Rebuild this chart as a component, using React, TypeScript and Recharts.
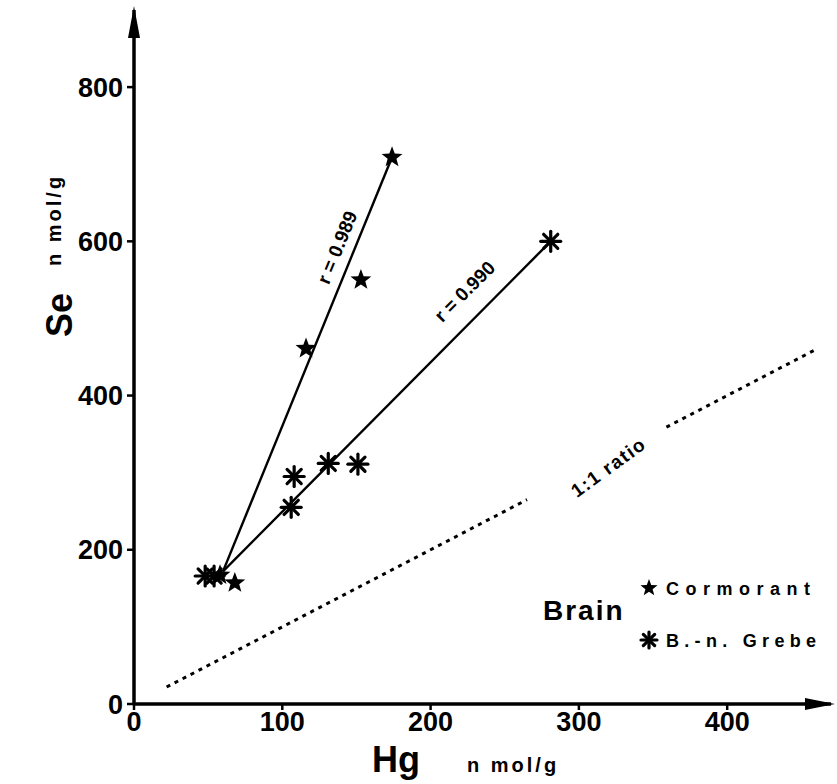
import {
  ScatterChart,
  Scatter,
  XAxis,
  YAxis,
  ReferenceLine,
  ReferenceDot,
} from "recharts";

// Hg vs Se in brain tissue (nmol/g)
const hgTicks = [0, 100, 200, 300, 400];
const seTicks = [0, 200, 400, 600, 800];

const cormorant = [
  { hg: 58, se: 167 },
  { hg: 68, se: 157 },
  { hg: 116, se: 461 },
  { hg: 153, se: 550 },
  { hg: 174, se: 709 },
];

const grebe = [
  { hg: 48, se: 166 },
  { hg: 54, se: 166 },
  { hg: 106, se: 255 },
  { hg: 108, se: 295 },
  { hg: 131, se: 312 },
  { hg: 151, se: 311 },
  { hg: 281, se: 600 },
];

const cormorantFit = [
  { x: 60, y: 172 },
  { x: 174, y: 709 },
];
const grebeFit = [
  { x: 60, y: 172 },
  { x: 281, y: 600 },
];
// 1:1 line, broken where its label sits
const ratioLow = [
  { x: 22, y: 22 },
  { x: 265, y: 265 },
];
const ratioHigh = [
  { x: 359, y: 359 },
  { x: 460, y: 460 },
];

const FONT = "'Liberation Sans', Arial, sans-serif";

function starPath(cx: number, cy: number, ro: number, ri: number) {
  const pts: string[] = [];
  for (let i = 0; i < 10; i++) {
    const r = i % 2 === 0 ? ro : ri;
    const a = -Math.PI / 2 + (i * Math.PI) / 5;
    pts.push(`${cx + r * Math.cos(a)},${cy + r * Math.sin(a)}`);
  }
  return pts.join(" ");
}

// recharts passes its own `size`, so the radius goes in under another name
function Star({ cx, cy, rad = 11 }: any) {
  if (cx == null || cy == null) return null;
  return <polygon points={starPath(cx, cy, rad, rad * 0.42)} fill="#000" />;
}

function Asterisk({ cx, cy, rad = 10 }: any) {
  if (cx == null || cy == null) return null;
  const arms = [0, 45, 90, 135].map((deg) => {
    const a = (deg * Math.PI) / 180;
    const dx = rad * Math.cos(a);
    const dy = rad * Math.sin(a);
    return (
      <line
        key={deg}
        x1={cx - dx}
        y1={cy - dy}
        x2={cx + dx}
        y2={cy + dy}
        stroke="#000"
        strokeWidth={3.2}
        strokeLinecap="round"
      />
    );
  });
  return <g>{arms}</g>;
}

function rotatedText(text: string, angle: number, fontSize: number, spacing = 0) {
  return ({ cx, cy }: any) => (
    <text
      x={cx}
      y={cy}
      transform={`rotate(${angle} ${cx} ${cy})`}
      textAnchor="middle"
      dominantBaseline="central"
      fontFamily={FONT}
      fontWeight={700}
      fontSize={fontSize}
      letterSpacing={spacing}
      fill="#000"
    >
      {text}
    </text>
  );
}

const XArrow = ({ cx, cy }: any) => (
  <polygon
    points={`${cx + 4},${cy} ${cx - 26},${cy - 6} ${cx - 26},${cy + 6}`}
    fill="#000"
  />
);
const YArrow = ({ cx, cy }: any) => (
  <polygon
    points={`${cx},${cy - 4} ${cx - 6},${cy + 28} ${cx + 6},${cy + 28}`}
    fill="#000"
  />
);

const tickStyle = {
  fill: "#000",
  fontSize: 27,
  fontWeight: 700,
  fontFamily: FONT,
};

export default function App() {
  return (
    <div
      style={{
        position: "absolute",
        left: 0,
        top: 0,
        width: 837,
        height: 784,
        background: "#fff",
      }}
    >
      <ScatterChart
        width={837}
        height={784}
        margin={{ top: 10, right: 6, bottom: 40, left: 64 }}
      >
        <XAxis
          type="number"
          dataKey="hg"
          domain={[0, 470]}
          ticks={hgTicks}
          height={40}
          axisLine={{ stroke: "#000", strokeWidth: 3.5 }}
          tickLine={{ stroke: "#000", strokeWidth: 2.5 }}
          tickSize={6}
          tickMargin={2}
          tick={tickStyle}
        />
        <YAxis
          type="number"
          dataKey="se"
          domain={[0, 900]}
          ticks={seTicks}
          width={70}
          axisLine={{ stroke: "#000", strokeWidth: 3.5 }}
          tickLine={{ stroke: "#000", strokeWidth: 2.5 }}
          tickSize={7}
          tickMargin={4}
          tick={tickStyle}
        />

        <ReferenceLine
          segment={cormorantFit}
          stroke="#000"
          strokeWidth={2.4}
          ifOverflow="visible"
        />
        <ReferenceLine
          segment={grebeFit}
          stroke="#000"
          strokeWidth={2.4}
          ifOverflow="visible"
        />
        <ReferenceLine
          segment={ratioLow}
          stroke="#000"
          strokeWidth={3}
          strokeDasharray="4 5"
          ifOverflow="visible"
        />
        <ReferenceLine
          segment={ratioHigh}
          stroke="#000"
          strokeWidth={3}
          strokeDasharray="4 5"
          ifOverflow="visible"
        />

        <ReferenceDot
          x={137}
          y={592}
          r={0}
          ifOverflow="visible"
          shape={rotatedText("r = 0.989", -67.8, 19)}
        />
        <ReferenceDot
          x={223}
          y={535}
          r={0}
          ifOverflow="visible"
          shape={rotatedText("r = 0.990", -45, 19)}
        />
        <ReferenceDot
          x={320}
          y={307}
          r={0}
          ifOverflow="visible"
          shape={rotatedText("1:1 ratio", -36, 19, 1.5)}
        />

        <ReferenceDot x={470} y={0} r={0} ifOverflow="visible" shape={XArrow} />
        <ReferenceDot x={0} y={900} r={0} ifOverflow="visible" shape={YArrow} />

        <Scatter
          name="Cormorant"
          data={cormorant}
          shape={<Star rad={11} />}
          isAnimationActive={false}
        />
        <Scatter
          name="B.-n. Grebe"
          data={grebe}
          shape={<Asterisk rad={10} />}
          isAnimationActive={false}
        />
      </ScatterChart>

      {/* axis titles and legend */}
      <svg
        width={837}
        height={784}
        style={{ position: "absolute", left: 0, top: 0, pointerEvents: "none" }}
        fontFamily={FONT}
        fontWeight={700}
      >
        <text x={372} y={772} fontSize={36}>
          Hg
        </text>
        <text x={467} y={772} fontSize={20} letterSpacing={3}>
          n mol/g
        </text>
        <text transform="translate(72,337) rotate(-90)" fontSize={36}>
          Se
        </text>
        <text
          transform="translate(61,266) rotate(-90)"
          fontSize={20}
          letterSpacing={3}
        >
          n mol/g
        </text>

        <text x={543} y={620} fontSize={28} letterSpacing={2}>
          Brain
        </text>
        <Star cx={649} cy={588} rad={9} />
        <text x={666} y={595} fontSize={18} letterSpacing={6.5}>
          Cormorant
        </text>
        <Asterisk cx={649} cy={640} rad={8} />
        <text x={666} y={647} fontSize={18} letterSpacing={5.3}>
          B.-n. Grebe
        </text>
      </svg>
    </div>
  );
}
